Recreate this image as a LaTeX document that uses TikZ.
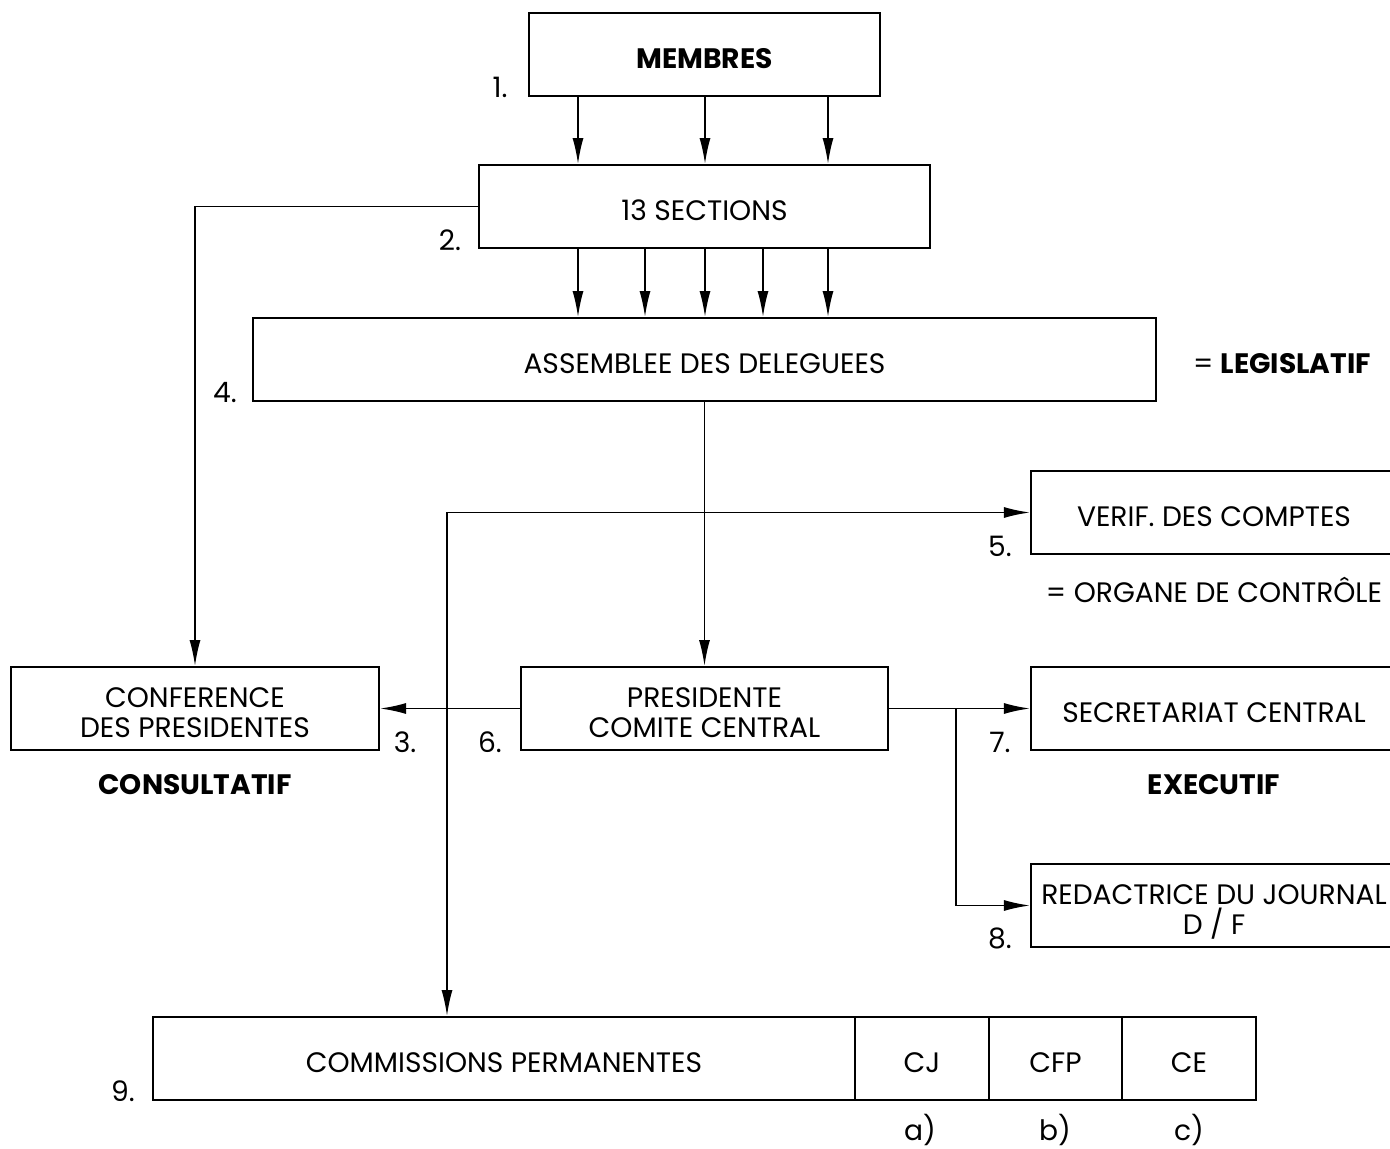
\documentclass[tikz,border=0pt]{standalone}
\usepackage{fontspec}
\setmainfont{Poppins}
\usetikzlibrary{arrows.meta}
\begin{document}
\begin{tikzpicture}[
  x=0.01cm, y=-0.01cm,
  every node/.style={font=\fontsize{8}{8.3}\selectfont, inner sep=0pt, align=center},
  box/.style={draw, line width=0.5pt, minimum height=0.83cm, text height=8pt, text depth=0pt},
  twobox/.style={box, text height=16.3pt},
  conn/.style={line width=0.5pt, -{Latex[length=2.6mm,width=1.1mm]}},
  both/.style={line width=0.5pt, {Latex[length=2.6mm,width=1.1mm]}-{Latex[length=2.6mm,width=1.1mm]}}
]
  \useasboundingbox (0,0) rectangle (1390,1149);

  \node[box, minimum width=3.51cm] (membres)   at (704.5, 54.5) {\textbf{MEMBRES}};
  \node[box, minimum width=4.51cm] (sections)  at (704.5, 206.5) {13 SECTIONS};
  \node[box, minimum width=9.03cm] (assemblee) at (704.5, 359.5) {ASSEMBLEE DES DELEGUEES};
  \node[twobox, minimum width=3.68cm] (conf)   at (195, 708.5) {CONFERENCE\\DES PRESIDENTES};
  \node[twobox, minimum width=3.67cm] (pres)   at (704.5, 708.5) {PRESIDENTE\\COMITE CENTRAL};
  \node[box, minimum width=3.66cm, anchor=west] (verif)    at (1030, 512.5) {VERIF. DES COMPTES};
  \node[box, minimum width=3.66cm, anchor=west] (secr)     at (1030, 708.5) {SECRETARIAT CENTRAL};
  \node[twobox, minimum width=3.66cm, anchor=west] (redac) at (1030, 905.5) {REDACTRICE DU JOURNAL\\D / F};
  \node[box, minimum width=7.02cm] (comm) at (504, 1058.5) {COMMISSIONS PERMANENTES};
  \node[box, minimum width=1.34cm] (cj)   at (922, 1058.5) {CJ};
  \node[box, minimum width=1.33cm] (cfp)  at (1055.5, 1058.5) {CFP};
  \node[box, minimum width=1.34cm] (ce)   at (1189, 1058.5) {CE};

  \node (n1) at (500, 87) {1.};
  \node (n2) at (450, 240) {2.};
  \node (n3) at (405, 742) {3.};
  \node (n4) at (225, 393) {4.};
  \node (n5) at (1000, 546) {5.};
  \node (n6) at (490, 742) {6.};
  \node (n7) at (1000, 742) {7.};
  \node (n8) at (1000, 938) {8.};
  \node (n9) at (123, 1091) {9.};
  \node (la) at (920, 1130) {a)};
  \node (lb) at (1055, 1130) {b)};
  \node (lc) at (1189, 1130) {c)};

  \node (legis)  at (1282, 364) {= \textbf{LEGISLATIF}};
  \node (ctrl)   at (1214, 590) {= ORGANE DE CONTRÔLE};
  \node (consul) at (195, 785) {\textbf{CONSULTATIF}};
  \node (exec)   at (1214, 785) {\textbf{EXECUTIF}};

  \foreach \x in {578,705,828}
    \draw[conn] (membres.south -| \x,0) -- (sections.north -| \x,0);
  \foreach \x in {578,645,705,763,828}
    \draw[conn] (sections.south -| \x,0) -- (assemblee.north -| \x,0);
  \draw[conn] (sections.west) -| (conf.north);
  \draw[conn] (assemblee.south) -- (pres.north);
  \draw[both] (verif.west) -| (comm.north -| 447,0);
  \draw[conn] (pres.west) -- (conf.east);
  \draw[conn] (pres.east) -- (secr.west);
  \draw[conn] (pres.east -| 956,0) |- (redac.west);
\end{tikzpicture}
\end{document}
